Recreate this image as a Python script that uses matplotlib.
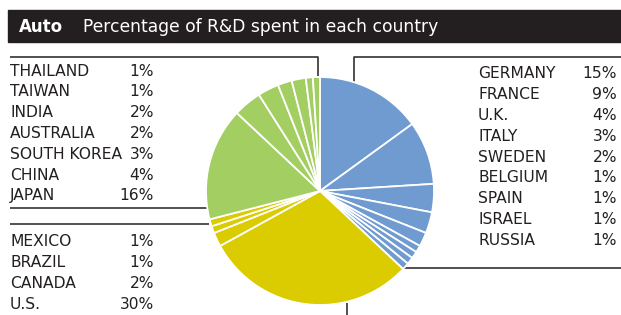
import matplotlib
matplotlib.use("Agg")
import matplotlib.pyplot as plt

plt.rcParams['font.family'] = ['DejaVu Sans']

# slices clockwise from 12 o'clock
europe = ['GERMANY', 'FRANCE', 'U.K.', 'ITALY', 'SWEDEN', 'BELGIUM', 'SPAIN', 'ISRAEL', 'RUSSIA']
europe_pct = [15, 9, 4, 3, 2, 1, 1, 1, 1]
americas = ['U.S.', 'CANADA', 'BRAZIL', 'MEXICO']
americas_pct = [30, 2, 1, 1]
asia = ['JAPAN', 'CHINA', 'SOUTH KOREA', 'AUSTRALIA', 'INDIA', 'TAIWAN', 'THAILAND']
asia_pct = [16, 4, 3, 2, 2, 1, 1]

BLUE = '#6f9bd1'
YELLOW = '#dacc00'
GREEN = '#a3cf62'
INK = '#231f20'

W, H = 621, 315
fig = plt.figure(figsize=(W / 100, H / 100), dpi=100)

# pixel-coordinate overlay
ax = fig.add_axes([0, 0, 1, 1])
ax.set_xlim(0, W)
ax.set_ylim(H, 0)
ax.axis('off')

# pie
cx, cy, r = 320, 191, 114
pax = fig.add_axes([(cx - r) / W, (H - cy - r) / H, 2 * r / W, 2 * r / H])
vals = europe_pct + americas_pct + asia_pct
cols = [BLUE] * len(europe_pct) + [YELLOW] * len(americas_pct) + [GREEN] * len(asia_pct)
wedges, _ = pax.pie(vals, colors=cols, startangle=90, counterclock=False,
                    wedgeprops=dict(edgecolor='white', linewidth=1.3))
for w in wedges:
    w.set_clip_on(False)
pax.set_xlim(-1, 1)
pax.set_ylim(-1, 1)
pax.set_aspect('equal')
pax.axis('off')

# title band
ax.add_patch(plt.Rectangle((8, 10), W - 8, 32, color=INK, zorder=1))
ax.text(19, 26.5, 'Auto', color='white', fontsize=12, fontweight='bold', va='center', zorder=2)
ax.text(83, 26.5, 'Percentage of R&D spent in each country', color='white', fontsize=12.3,
        va='center', zorder=2)

fs = 11.2
step = 20.8


def block(names, pcts, x0, x1, y0):
    for i, (n, p) in enumerate(zip(names, pcts)):
        y = y0 + i * step
        ax.text(x0, y, n, fontsize=fs, color=INK, va='center')
        ax.text(x1, y, f'{p}%', fontsize=fs, color=INK, va='center', ha='right')


block(asia[::-1], asia_pct[::-1], 10, 154, 71)
block(americas[::-1], americas_pct[::-1], 10, 154, 242)
block(europe, europe_pct, 478, 617, 74)

lk = dict(color=INK, lw=1.1, solid_capstyle='butt')
ax.plot([10, 318, 318], [57, 57, 76], **lk)
ax.plot([10, 211], [208, 208], **lk)
ax.plot([10, 209], [224, 224], **lk)
ax.plot([354, 354, W], [83, 57, 57], **lk)
ax.plot([404, W], [268, 268], **lk)
ax.plot([347, 347], [303, H], **lk)

fig.savefig('out.png', dpi=100)
